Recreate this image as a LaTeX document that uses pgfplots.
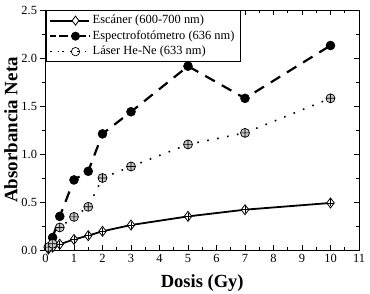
\documentclass[border=0pt]{standalone}
\usepackage{pgfplots}
\pgfplotsset{compat=1.18}
\usepackage{fontspec}
\setmainfont{Liberation Serif}
\begin{document}
\begin{tikzpicture}
\pgfplotsset{
  common/.style={
    width=313.5bp, height=240bp, scale only axis,
    xmin=0, xmax=11, ymin=0, ymax=2.5,
    xtick={0,1,...,11}, ytick={0,0.5,...,2.5},
    minor x tick num=1, minor y tick num=1,
    major tick length=5bp, minor tick length=3bp,
    /pgf/number format/assume math mode=true,
    tick label style={font=\fontsize{12.5}{14}\selectfont},
    axis line style={line width=0.8bp},
    every tick/.style={black, line width=0.8bp},
  }
}
\begin{axis}[common, name=main,
  tick align=inside, ytick pos=right, yticklabels={},
  xticklabel style={yshift=-1bp},
  xlabel={\textbf{Dosis (Gy)}},
  xlabel style={font=\fontsize{18.6}{20}\selectfont, at={(axis description cs:0.5,-0.1375)}, anchor=center},
  legend style={at={(axis description cs:0,1)}, anchor=north west, draw=black, line width=0.8bp,
    font=\fontsize{12.5}{14}\selectfont, inner xsep=3bp, inner ysep=2.5bp, row sep=0pt,
    nodes={text height=9bp, text depth=3bp, inner ysep=1.75bp, inner xsep=2.5bp}},
  legend cell align=left,
  legend image code/.code={\path (-0.42cm,0) -- (0,0);
    \draw[mark repeat=2,mark phase=2] plot coordinates {(0cm,0cm) (0.48cm,0cm) (0.96cm,0cm)};},
]
% Escaner
\addplot[black, line width=1.8bp, mark=diamond*, mark size=5bp, mark options={fill=white, solid, line width=0.8bp}, forget plot]
  coordinates {(0.1,0.01) (0.25,0.03) (0.5,0.06) (1,0.11) (1.5,0.15) (2,0.195) (3,0.26) (5,0.35) (7,0.42) (10,0.49)};
\addplot[only marks, black, mark=+, mark size=3.5bp, mark options={line width=0.7bp}, forget plot]
  coordinates {(0.1,0.01) (0.25,0.03) (0.5,0.06) (1,0.11) (1.5,0.15) (2,0.195) (3,0.26) (5,0.35) (7,0.42) (10,0.49)};
% Espectrofotometro
\addplot[black, line width=2.2bp, dash pattern=on 11bp off 8bp, mark=*, mark size=4.5bp, mark options={solid, draw=black, fill=black, line width=0.5bp}, forget plot]
  coordinates {(0.25,0.13) (0.5,0.35) (1,0.73) (1.5,0.82) (2,1.21) (3,1.44) (5,1.915) (7,1.58) (10,2.13)};
% Laser
\addplot[black, line width=1.6bp, dash pattern=on 1.6bp off 8.5bp, mark=oplus*, mark size=4.5bp, mark options={solid, fill=gray!45, line width=0.7bp}, forget plot]
  coordinates {(0.1,0.03) (0.25,0.065) (0.5,0.235) (1,0.345) (1.5,0.45) (2,0.75) (3,0.87) (5,1.10) (7,1.22) (10,1.58)};
\addlegendimage{black, line width=1.8bp, mark=diamond*, mark size=4.5bp, mark options={fill=white, line width=0.8bp}}
\addlegendentry{Escáner (600-700 nm)}
\addlegendimage{black, line width=2.2bp, dash pattern=on 6bp off 3bp, mark=*, mark size=4.2bp, mark options={solid, draw=black, fill=black, line width=0.5bp}}
\addlegendentry{Espectrofotómetro (636 nm)}
\addlegendimage{black, line width=1.6bp, dash pattern=on 1.6bp off 6bp, mark=o, mark size=4.2bp, mark options={solid, fill=white, line width=0.7bp}}
\addlegendentry{Láser He-Ne (633 nm)}
\end{axis}
\begin{axis}[common,
  axis x line=none, axis y line*=left, tick align=outside,
  yticklabel style={/pgf/number format/.cd, fixed, fixed zerofill, precision=1},
  ylabel={\textbf{Absorbancia Neta}},
  ylabel style={font=\fontsize{19}{20}\selectfont, at={(axis description cs:-0.11,0.5)}, anchor=center},
]
\end{axis}
\pgfresetboundingbox
\path (main.south west) ++(-45.5bp,-44bp) rectangle ++(370bp,294bp);
\end{tikzpicture}
\end{document}
